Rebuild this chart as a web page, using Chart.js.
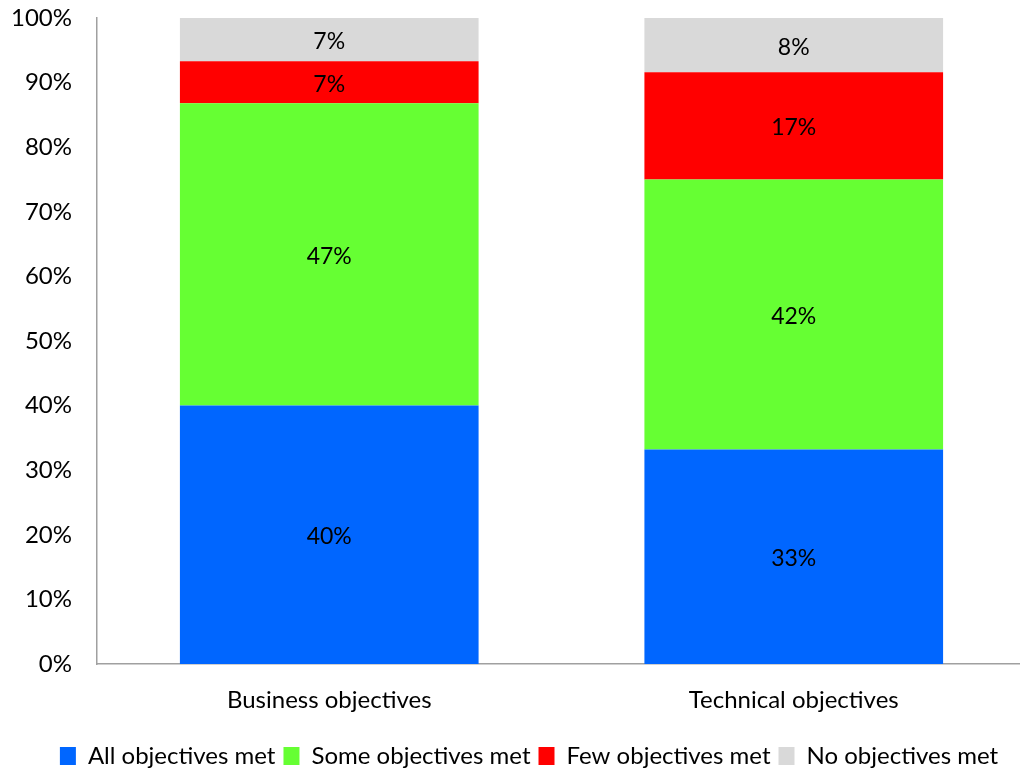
<!DOCTYPE html>
<html>
<head>
<meta charset="utf-8">
<script src="https://cdn.jsdelivr.net/npm/chart.js@4"></script>
<style>
  html, body { margin: 0; padding: 0; background: #fff; overflow: hidden; }
  /* the plot area in the original runs a few px past the right edge */
  #wrap { width: 1020px; height: 769px; overflow: hidden; }
</style>
</head>
<body>
<div id="wrap"><canvas id="objChart" width="1026" height="769"></canvas></div>
<script>
// categories and share of projects (percent) per outcome
const categories = ['Business objectives', 'Technical objectives']
const allMet = [40.0, 33.2]
const someMet = [46.8, 41.8]
const fewMet = [6.5, 16.6]
const noneMet = [6.7, 8.4]
const yTicks = ['0%', '10%', '20%', '30%', '40%', '50%', '60%', '70%', '80%', '90%', '100%']

const font = "Lato, Calibri, 'Open Sans', sans-serif"

// writes the rounded value in the middle of each segment
const segmentLabels = {
    id: 'segmentLabels',
    afterDatasetsDraw(chart) {
        const ctx = chart.ctx
        ctx.save()
        ctx.font = '23px ' + font
        ctx.fillStyle = '#000'
        ctx.textAlign = 'center'
        ctx.textBaseline = 'middle'
        chart.data.datasets.forEach((ds, i) => {
            chart.getDatasetMeta(i).data.forEach((bar, j) => {
                const p = bar.getProps(['x', 'y', 'base'], true)
                ctx.fillText(Math.round(ds.data[j]) + '%', p.x, (p.y + p.base) / 2 + 2)
            })
        })
        ctx.restore()
    }
}

// legend sits a bit right of centre in the original
const nudgeLegend = {
    id: 'nudgeLegend',
    afterLayout(chart) {
        chart.legend.left += 20
    }
}

var ctx = document.getElementById('objChart')
var myChart = new Chart(ctx, {
    type: 'bar',
    data: {
        labels: categories,
        datasets: [
            { label: 'All objectives met', data: allMet, backgroundColor: '#0066FF' },
            { label: 'Some objectives met', data: someMet, backgroundColor: '#66FF33' },
            { label: 'Few objectives met', data: fewMet, backgroundColor: '#FF0000' },
            { label: 'No objectives met', data: noneMet, backgroundColor: '#D9D9D9' }
        ]
    },
    options: {
        responsive: false,
        animation: false,
        devicePixelRatio: 1,
        layout: { padding: { left: 12, right: 0, top: 18, bottom: -9 } },
        datasets: { bar: { categoryPercentage: 0.643, barPercentage: 1.0 } },
        scales: {
            x: {
                stacked: true,
                grid: { display: false, drawTicks: false },
                border: { color: '#a0a0a0', width: 1.5 },
                ticks: {
                    color: '#000',
                    padding: 0,
                    font: { family: font, size: 24, lineHeight: 1 },
                    // blank first line pushes the name down below the axis
                    callback: (v, i) => ['', categories[i]]
                },
                afterFit: (scale) => {
                    scale.height = 72
                    scale.paddingLeft = 0
                    scale.paddingRight = 0
                }
            },
            y: {
                stacked: true,
                min: 0,
                max: 100,
                grid: { display: false, drawTicks: false },
                border: { color: '#a0a0a0', width: 1.5 },
                ticks: {
                    stepSize: 10,
                    color: '#000',
                    padding: 25,
                    font: { family: font, size: 24 },
                    callback: (v) => yTicks[Math.round(v / 10)]
                },
                afterFit: (scale) => {
                    scale.width = 85
                    scale.paddingTop = 0
                    scale.paddingBottom = 0
                }
            }
        },
        plugins: {
            legend: {
                position: 'bottom',
                labels: {
                    color: '#000',
                    font: { family: font, size: 24 },
                    boxWidth: 16,
                    boxHeight: 18,
                    padding: 8
                }
            },
            tooltip: { enabled: false }
        }
    },
    plugins: [segmentLabels, nudgeLegend]
})
</script>
</body>
</html>
